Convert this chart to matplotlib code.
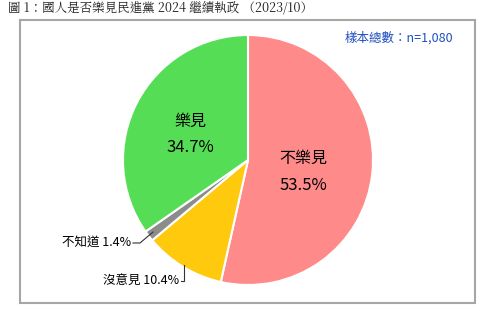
import matplotlib
matplotlib.use("Agg")
import matplotlib.pyplot as plt
from matplotlib.patches import Rectangle

plt.rcParams['font.family'] = ['Noto Sans CJK TC', 'DejaVu Sans']

categories = ["不樂見", "沒意見", "不知道", "樂見"]
values = [53.5, 10.4, 1.4, 34.7]
colors = ["#FF8A8A", "#FFC90E", "#8C8C8C", "#55DD55"]
title = "圖 1：國人是否樂見民進黨 2024 繼續執政 （2023/10）"
sample_note = "樣本總數：n=1,080"

W, H = 500, 311
fig = plt.figure(figsize=(W / 100, H / 100), dpi=100)
ax = fig.add_axes([0, 0, 1, 1])

def Y(y):
    return H - y

ax.pie(values, colors=colors, startangle=90, counterclock=False,
       center=(248, Y(160)), radius=125,
       wedgeprops=dict(edgecolor="white", linewidth=1.5))
ax.set_xlim(0, W)
ax.set_ylim(0, H)
ax.set_aspect('equal')
ax.axis('off')

ax.add_patch(Rectangle((20, Y(303)), 455, 283, fill=False,
                       edgecolor="#A6A6A6", linewidth=1.5, zorder=0))

fig.text(8 / W, 1 - 8 / H, title, ha='left', va='center', fontsize=9,
         color='#222222', family=['Noto Serif CJK TC', 'Noto Sans CJK TC', 'DejaVu Sans'])
ax.text(453, Y(38), sample_note, ha='right', va='center', fontsize=9,
        color='#1F4FBF')

# inside labels
ax.text(303, Y(158), categories[0], ha='center', va='center', fontsize=11.5)
ax.text(303, Y(185), f"{values[0]}%", ha='center', va='center', fontsize=12)
ax.text(190, Y(121), categories[3], ha='center', va='center', fontsize=11.5)
ax.text(190, Y(148), f"{values[3]}%", ha='center', va='center', fontsize=12)

# outside labels with leader lines
ax.plot([153, 140, 133], [Y(232), Y(243), Y(243)], color='#333333', lw=0.8)
ax.text(131, Y(242), f"{categories[2]} {values[2]}%", ha='right', va='center', fontsize=9)
ax.plot([184, 184, 181], [Y(265), Y(281), Y(281)], color='#333333', lw=0.8)
ax.text(179, Y(280), f"{categories[1]} {values[1]}%", ha='right', va='center', fontsize=9)

fig.savefig("out.png", dpi=100, facecolor='white')
